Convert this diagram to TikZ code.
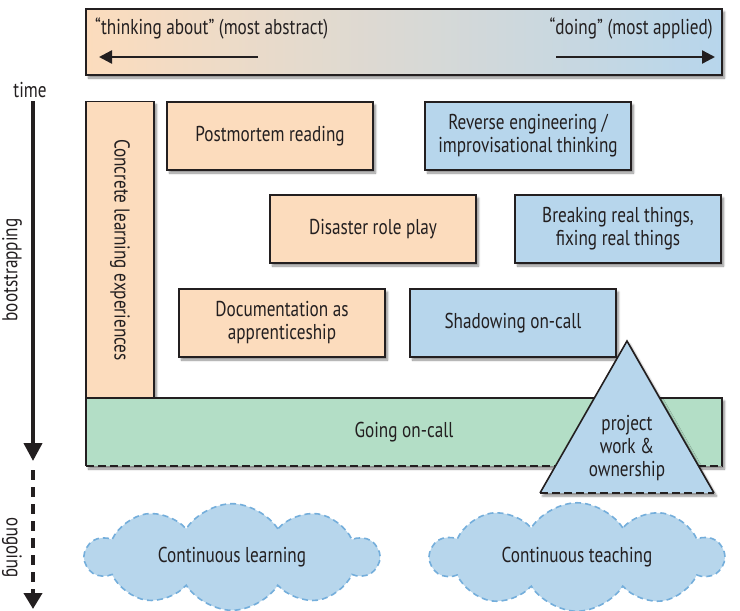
\documentclass[tikz,border=0pt]{standalone}
\usepackage{fontspec}
\setmainfont[FakeStretch=0.8]{PT Sans}
\usetikzlibrary{shadows,shadows.blur,shapes.symbols,arrows.meta}
\definecolor{peach}{HTML}{FCDCBD}
\definecolor{sky}{HTML}{B7D6EC}
\definecolor{mint}{HTML}{B3DEC6}
\definecolor{ink}{HTML}{231F20}
\definecolor{cloudline}{HTML}{74AEDB}
\tikzset{
  shad/.style={blur shadow={shadow blur steps=6, shadow xshift=2.5pt, shadow yshift=-3pt, shadow opacity=45}},
  boxbase/.style={draw=ink, line width=1.6pt, shad, align=center, font=\fontsize{21.5}{23}\selectfont, text=ink, inner sep=0pt},
  obox/.style={boxbase, fill=peach},
  bbox/.style={boxbase, fill=sky},
  cloudbox/.style={cloud, cloud puffs=10, cloud puff arc=115, aspect=2.8, draw=cloudline, dash pattern=on 6pt off 4pt, line width=1.6pt, fill=sky, font=\fontsize{21.5}{23}\selectfont, text=ink, inner sep=0pt},
  lbl/.style={font=\fontsize{21.5}{23}\selectfont, text=ink, inner sep=0pt},
  tline/.style={line width=4pt, ink},
  longdash/.style={dash pattern=on 8pt off 4pt},
  harrow/.style={line width=2.4pt, ink, -{Triangle[length=13pt,width=13pt]}}
}
\begin{document}
\begin{tikzpicture}[x=1pt,y=-1pt]
\useasboundingbox (0,0) rectangle (740,611);
% top bar
\node[draw=ink, line width=1.6pt, left color=peach, right color=sky, shad, minimum width=636pt, minimum height=66pt, inner sep=0pt] (bar) at (404,42) {};
\node[lbl, anchor=west] (think) at (95,28) {“thinking about” (most abstract)};
\node[lbl, anchor=east] (doing) at (713,28) {“doing” (most applied)};
\coordinate (la0) at (258,57); \coordinate (la1) at (99,57);
\coordinate (ra0) at (556,57); \coordinate (ra1) at (715,57);
\draw[harrow] (la0) -- (la1);
\draw[harrow] (ra0) -- (ra1);
% time axis
\node[lbl] (time) at (30,90) {time};
\node[lbl, rotate=90] (boot) at (12,270) {bootstrapping};
\node[lbl, rotate=-90] (ongo) at (12,548) {ongoing};
\coordinate (t0) at (33,101); \coordinate (t1) at (33,461);
\coordinate (t2) at (33,470); \coordinate (t3) at (33,609);
\draw[tline, -{Triangle[length=18pt,width=18pt]}] (t0) -- (t1);
\draw[tline, dash pattern=on 10pt off 7pt, -{Triangle[length=16pt,width=18pt]}] (t2) -- (t3);
% boxes
\node[obox, minimum width=68pt, minimum height=297pt] (concrete) at (120,250) {};
\node[lbl, rotate=-90] (concretetxt) at (concrete.center) {Concrete learning experiences};
\node[obox, minimum width=206pt, minimum height=68pt] (pm) at (270,136) {Postmortem reading};
\node[bbox, minimum width=206pt, minimum height=68pt] (rev) at (528,136) {Reverse engineering /\\improvisational thinking};
\node[obox, minimum width=206pt, minimum height=68pt] (dis) at (373,229) {Disaster role play};
\node[bbox, minimum width=206pt, minimum height=68pt] (brk) at (618,229) {Breaking real things,\\fixing real things};
\node[obox, minimum width=206pt, minimum height=68pt] (doc) at (282,323) {Documentation as\\apprenticeship};
\node[bbox, minimum width=206pt, minimum height=68pt] (shd) at (513,323) {Shadowing on-call};
% going on-call
\node[fill=mint, shad, minimum width=636pt, minimum height=68pt, inner sep=0pt] (goc) at (404,432) {};
\draw[ink, line width=1.6pt] (goc.south west) -- (goc.north west) -- (goc.north east) -- (goc.south east);
\draw[ink, line width=1.6pt, longdash] (goc.south west) -- (goc.south east);
\node[lbl] (goctxt) at (404,432) {Going on-call};
% triangle
\coordinate (ta) at (627,341); \coordinate (tl) at (540,493); \coordinate (tr) at (714,493);
\fill[sky, shad] (ta) -- (tr) -- (tl) -- cycle;
\draw[ink, line width=1.6pt] (tl) -- (ta) -- (tr);
\draw[ink, line width=1.6pt, longdash] (tl) -- (tr);
\node[lbl, align=center] (proj) at (627,448) {project\\work \&\\ownership};
% clouds
\node[cloudbox, minimum width=292pt, minimum height=106pt] (cl) at (232,557) {Continuous learning};
\node[cloudbox, minimum width=292pt, minimum height=106pt] (ct) at (577,557) {Continuous teaching};
\end{tikzpicture}
\end{document}
